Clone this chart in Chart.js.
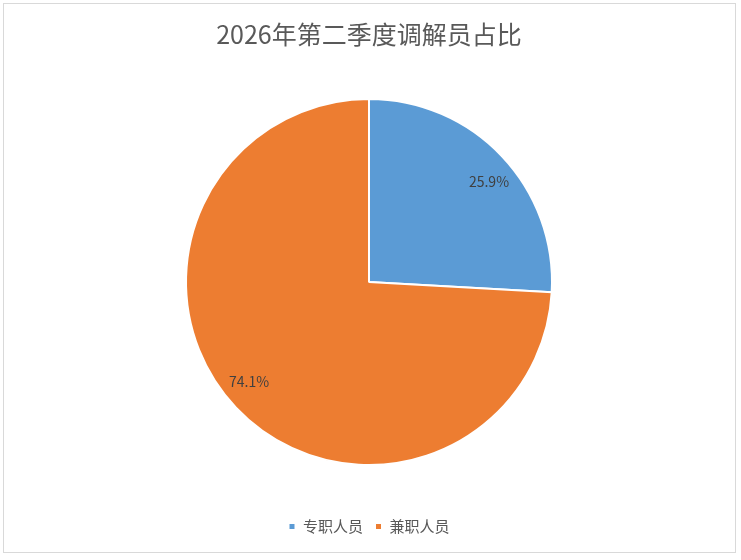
<!DOCTYPE html>
<html lang="zh">
<head>
    <meta charset="UTF-8">
    <title>2026年第二季度调解员占比</title>
    <script src="https://cdn.jsdelivr.net/npm/chart.js"></script>
    <style>
        body { margin: 0; background: #fff; }
        .frame { position: absolute; left: 3px; top: 3px; width: 733px; height: 550px; border: 1px solid #d9d9d9; box-sizing: border-box; }
        .wrap { position: absolute; left: 0; top: 0; width: 741px; height: 560px; }
    </style>
</head>
<body>
    <div class="frame"></div>
    <div class="wrap"><canvas id="pieChart"></canvas></div>

    <script>
        // 数据
        const categories = ['专职人员', '兼职人员'];
        const shares = [25.9, 74.1];
        const colors = ['#5B9BD5', '#ED7D31'];
        const fontFamily = '"Noto Sans CJK SC", "Noto Sans", sans-serif';

        // 扇区内百分比标签
        const pctLabels = {
            id: 'pctLabels',
            afterDatasetsDraw(chart) {
                const ctx = chart.ctx;
                const total = shares.reduce((a, b) => a + b, 0);
                chart.getDatasetMeta(0).data.forEach((arc, i) => {
                    const mid = (arc.startAngle + arc.endAngle) / 2 + 0.063;
                    const r = arc.outerRadius * 0.853;
                    const x = arc.x + Math.cos(mid) * r;
                    const y = arc.y + Math.sin(mid) * r;
                    ctx.save();
                    ctx.font = '14px ' + fontFamily;
                    ctx.fillStyle = '#404040';
                    ctx.textAlign = 'center';
                    ctx.textBaseline = 'middle';
                    ctx.fillText((shares[i] / total * 100).toFixed(1) + '%', x, y);
                    ctx.restore();
                });
            }
        };

        new Chart(document.getElementById('pieChart'), {
            type: 'pie',
            data: {
                labels: categories,
                datasets: [{
                    data: shares,
                    backgroundColor: colors,
                    borderColor: '#ffffff',
                    borderWidth: 2,
                    radius: 183
                }]
            },
            options: {
                responsive: true,
                maintainAspectRatio: false,
                animation: false,
                layout: { padding: { top: 5, bottom: 16, left: 0, right: 3 } },
                plugins: {
                    title: {
                        display: true,
                        text: '2026年第二季度调解员占比',
                        color: '#595959',
                        font: { family: fontFamily, size: 25, weight: 'normal' },
                        padding: { top: 14, bottom: 8 }
                    },
                    legend: {
                        position: 'bottom',
                        labels: {
                            color: '#595959',
                            font: { family: fontFamily, size: 15 },
                            boxWidth: 7,
                            boxHeight: 7,
                            padding: 12
                        }
                    },
                    tooltip: { enabled: false }
                }
            },
            plugins: [pctLabels]
        });
    </script>
</body>
</html>
